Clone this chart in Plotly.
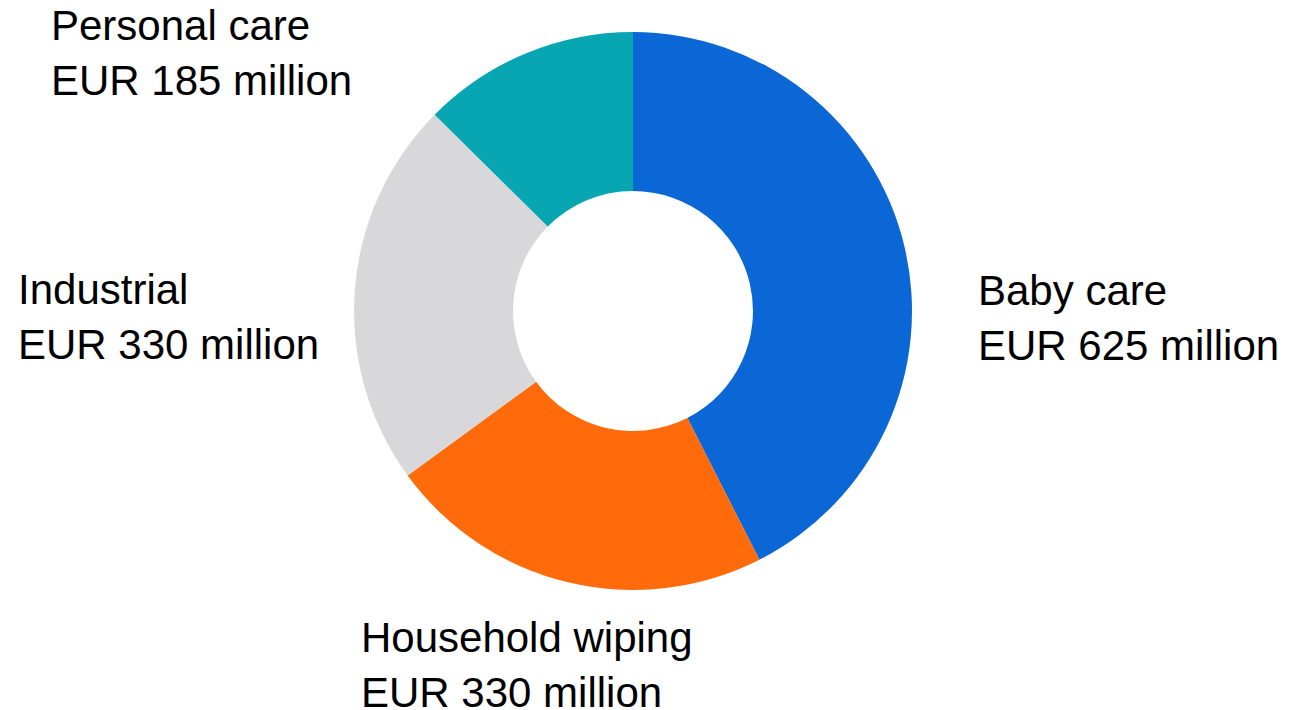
import plotly.graph_objects as go

# Segment sales, EUR million
segments = ["Baby care", "Household wiping", "Industrial", "Personal care"]
sales = [625, 330, 330, 185]
colors = ["#0b66d6", "#ff6a0a", "#d8d8da", "#08a6b3"]

# Label anchor positions (paper coordinates)
label_x = [0.7572, 0.2785, 0.0124, 0.0380]
label_y = [0.5521, 0.0634, 0.5535, 0.9254]

W, H = 1289, 710
cx, cy, r = 633, 311, 279

fig = go.Figure(
    go.Pie(
        labels=segments,
        values=sales,
        hole=0.43,
        sort=False,
        direction="clockwise",
        rotation=0,
        marker=dict(colors=colors, line=dict(width=0)),
        textinfo="none",
        hoverinfo="label+value",
        domain=dict(x=[(cx - r) / W, (cx + r) / W], y=[1 - (cy + r) / H, 1 - (cy - r) / H]),
        showlegend=False,
    )
)

for name, val, x, y in zip(segments, sales, label_x, label_y):
    fig.add_annotation(
        x=x, y=y, xref="paper", yref="paper",
        xanchor="left", yanchor="middle", align="left",
        text=f"{name}<br>EUR {val} million",
        showarrow=False,
        font=dict(family="Arial, Liberation Sans, sans-serif", size=42, color="#000000"),
    )

fig.update_layout(
    width=W, height=H,
    margin=dict(l=0, r=0, t=0, b=0),
    paper_bgcolor="white",
    plot_bgcolor="white",
)

fig.write_html("out.html")
